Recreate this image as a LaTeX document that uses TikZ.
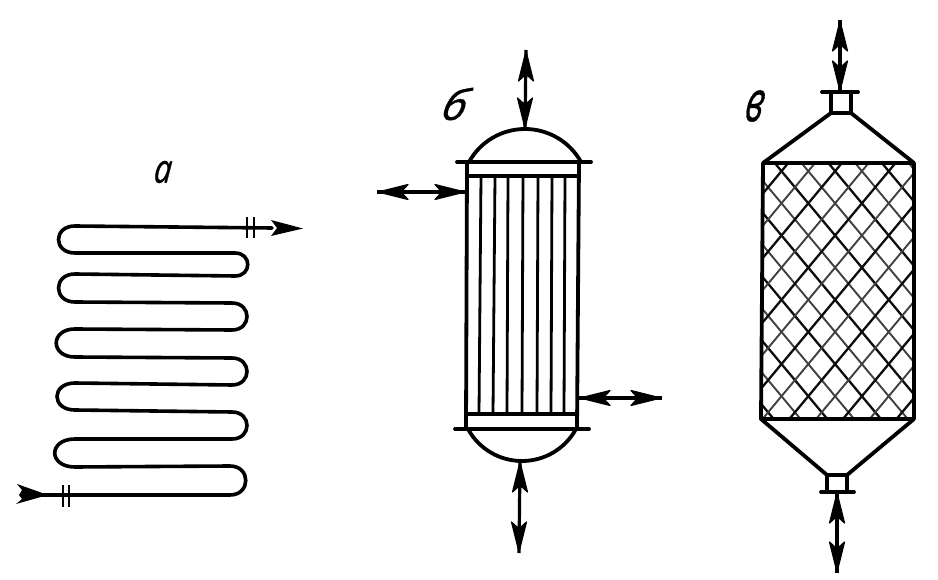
\documentclass[tikz,border=0pt]{standalone}
\usepackage{fontspec}
\setmainfont{Open Sans}
\newfontfamily\lblf[ItalicFeatures={FakeBold=0.8}]{Open Sans}
\newcommand{\headat}[2]{\filldraw[line width=1.2pt,line join=round,shift={(#1)},rotate=#2] (-1,0) -- (-31,-7.5) -- (-26,-2) -- (-26,2) -- (-31,7.5) -- cycle;}
\tikzset{
  pipe/.style={line width=3.6pt,line join=round,line cap=round},
  wall/.style={line width=3.8pt,line join=round,line cap=round},
  tube/.style={line width=2.8pt},
  shaft/.style={line width=3.2pt},
  tick/.style={line width=2.8pt},
  dark/.style={line width=2.3pt,black!95},
  light/.style={line width=1.9pt,black!75},
  lbl/.style={font=\lblf\itshape\fontsize{40}{40}\selectfont,inner sep=0pt,transform shape}
}
\begin{document}
\begin{tikzpicture}[x=1pt,y=-1pt]
\useasboundingbox (0,0) rectangle (938,580);
\fill[white] (0,0) rectangle (938,580);
% labels
\node[lbl,xscale=.78,xslant=.12] (la) at (163,172) {а};
\node[lbl,xscale=1.1,yscale=1.05,xslant=.25] (lb) at (456,104) {б};
\node[lbl,xscale=.85,yscale=1.42,xslant=.3] (lv) at (755,106) {в};
% coil
\draw[pipe] (272,228) -- (75,226)
  .. controls (53,226) and (53,253) .. (75,253) -- (235,253)
  .. controls (252,253) and (252,276) .. (235,276) -- (75,274)
  .. controls (53,274) and (53,302) .. (75,302) -- (232,303)
  .. controls (252,303) and (252,330) .. (232,330) -- (75,329)
  .. controls (50,329) and (50,357) .. (75,357) -- (232,358)
  .. controls (252,358) and (252,385) .. (232,385) -- (75,383)
  .. controls (51,383) and (51,410) .. (75,410) -- (232,412)
  .. controls (252,412) and (252,439) .. (232,439) -- (75,439)
  .. controls (48,439) and (48,467) .. (75,467) -- (230,466)
  .. controls (251,466) and (251,495) .. (230,495) -- (40,495);
\coordinate (cb) at (303,228.5);
\fill (cb) -- (271,220) -- (277,228) -- (271,236) -- cycle;
\coordinate (cd) at (48,495);
\fill (cd) -- (17,484) -- (22,490) -- (19,495) -- (22,499) -- (16,504) -- cycle;
\draw[tick] (247,217) -- (247,238) (254,217) -- (254,238);
\draw[tick] (63,485) -- (63,507) (69,485) -- (69,507);
% shell and tube
\draw[wall] (467,162) -- (466,429) (579,162) -- (577,429);
\draw[wall] (457,162) -- (591,162);
\draw[wall] (455,429) -- (589,429);
\draw[wall] (467,176) -- (579,176);
\draw[wall] (466,414) -- (577,414);
\foreach \a/\b in {481/479,495/493,508/507,523/522,538/537,552/551,565/564}
  \draw[tube] (\a,176) -- (\b,414);
\draw[wall] (469,162) .. controls (480.3,141.6) and (501.7,129) .. (525,129)
  .. controls (548.3,129) and (569.7,141.6) .. (581,162);
\draw[wall] (468,429) .. controls (479,449) and (499.6,461) .. (522,461)
  .. controls (544.4,461) and (565,449) .. (576,429);
\coordinate (t1) at (526,50);
\coordinate (t2) at (525,129);
\draw[shaft] (t1) -- (t2); \headat{t1}{90} \headat{t2}{-90}
\coordinate (l1) at (377,192);
\coordinate (l2) at (466,192);
\draw[shaft] (l1) -- (l2); \headat{l1}{180} \headat{l2}{0}
\coordinate (r1) at (579,398);
\coordinate (r2) at (662,398);
\draw[shaft] (r1) -- (r2); \headat{r1}{180} \headat{r2}{0}
\coordinate (b1) at (520,461);
\coordinate (b2) at (519,553);
\draw[shaft] (b1) -- (b2); \headat{b1}{90} \headat{b2}{-90}
% packed column
\begin{scope}
\clip (762,163) rectangle (914,419);
\foreach \k in {-9,...,6}{
  \pgfmathsetmacro{\c}{638.9+26.8*\k}
  \pgfmathsetmacro{\xa}{\c+135.8}
  \pgfmathsetmacro{\xb}{\c+349.2}
  \pgfmathparse{int(mod(\k+20,2))}
  \ifnum\pgfmathresult=0 \draw[dark] (\xa,163) -- (\xb,419);
  \else \draw[light] (\xa,163) -- (\xb,419); \fi
}
\foreach \k in {-3,...,11}{
  \pgfmathsetmacro{\d}{977.7+26.8*\k}
  \pgfmathsetmacro{\xa}{\d-135.8}
  \pgfmathsetmacro{\xb}{\d-349.2}
  \pgfmathparse{int(mod(\k+20,2))}
  \ifnum\pgfmathresult=0 \draw[dark] (\xa,163) -- (\xb,419);
  \else \draw[light] (\xa,163) -- (\xb,419); \fi
}
\end{scope}
\draw[wall] (763,163) -- (914,163) -- (914,419) -- (761,419) -- cycle;
\draw[wall] (763,163) -- (831,113) -- (851,113) -- (914,163);
\draw[wall] (831,113) -- (831,93) (851,113) -- (851,93);
\draw[wall] (822,92) -- (858,92);
\draw[wall] (761,419) -- (827,475) -- (847,475) -- (914,419);
\draw[wall] (827,475) -- (827,491) (847,475) -- (847,491);
\draw[wall] (821,492) -- (854,492);
\coordinate (n1) at (840,20);
\coordinate (n2) at (840,92);
\draw[shaft] (n1) -- (n2); \headat{n1}{90} \headat{n2}{-90}
\coordinate (m1) at (837,492);
\coordinate (m2) at (837,573);
\draw[shaft] (m1) -- (m2); \headat{m1}{90} \headat{m2}{-90}
\end{tikzpicture}
\end{document}
